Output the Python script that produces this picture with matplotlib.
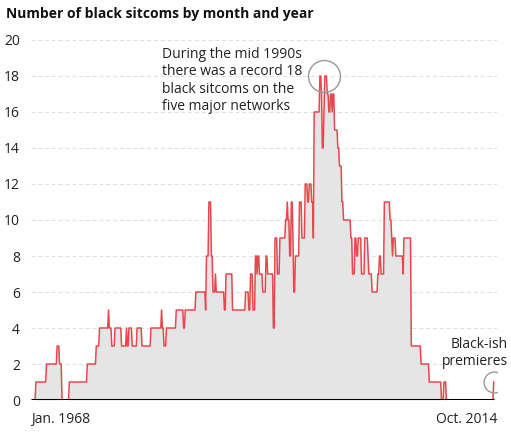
import numpy as np
import pandas as pd
import matplotlib
matplotlib.use("Agg")
import matplotlib.pyplot as plt

plt.rcParams['font.family'] = ['Open Sans', 'DejaVu Sans']

# months where the count changes, and the new count from that month on
change_months = [
    "1967-12",
    "1968-01", "1969-02", "1970-03", "1970-06", "1970-09", "1971-06", "1973-04",
    "1974-03", "1974-07", "1975-06", "1975-07", "1975-10", "1976-02", "1976-10",
    "1977-04", "1977-05", "1977-07", "1977-11", "1978-05", "1978-11", "1979-10",
    "1980-11", "1980-12", "1981-02", "1981-05", "1982-05", "1983-02", "1983-04",
    "1984-05", "1985-05", "1985-06", "1985-09", "1985-12", "1986-02", "1986-05",
    "1986-06", "1987-04", "1987-06", "1988-02", "1989-06", "1989-10", "1989-12",
    "1990-03", "1990-06", "1990-08", "1990-09", "1990-11", "1991-03", "1991-07",
    "1991-09", "1992-04", "1992-06", "1992-09", "1992-12", "1993-07", "1993-09",
    "1993-10", "1993-12", "1994-02", "1994-04", "1994-05", "1994-07", "1994-12",
    "1995-03", "1995-07", "1995-10", "1995-12", "1996-03", "1996-05", "1996-06",
    "1997-01", "1997-03", "1997-04", "1997-06", "1997-07", "1997-10", "1997-12",
    "1998-02", "1998-04", "1998-05", "1998-07", "1998-11", "1999-01", "1999-04",
    "1999-06", "2000-03", "2000-05", "2000-08", "2000-10", "2000-12", "2001-04",
    "2001-08", "2001-12", "2002-01", "2002-05", "2002-12", "2003-02", "2003-04",
    "2003-08", "2004-03", "2004-05", "2004-06", "2004-07", "2004-10", "2005-07",
    "2005-08", "2006-05", "2007-05", "2008-03", "2009-06", "2009-09", "2009-12",
    "2014-10",
]
change_counts = [
    0,
    1, 2, 3, 2, 0, 1, 2,
    3, 4, 5, 4, 3, 4, 3,
    4, 3, 4, 3, 4, 3, 4,
    5, 4, 3, 4, 5, 4, 5,
    6, 5, 8, 11, 8, 6, 7,
    6, 5, 7, 5, 6, 5, 7,
    5, 8, 7, 8, 7, 6, 8,
    7, 4, 9, 7, 9, 10, 11,
    10, 8, 11, 9, 6, 8, 11,
    9, 12, 11, 12, 11, 9, 16,
    18, 17, 14, 16, 18, 17, 16,
    17, 16, 17, 15, 14, 13, 11,
    10, 9, 7, 9, 8, 9, 7,
    9, 8, 7, 6, 7, 8, 7,
    11, 10, 9, 8, 9, 8, 7,
    9, 3, 2, 1, 0, 1, 0,
    1,
]

x_labels = ["Jan. 1968", "Oct. 2014"]

# monthly series, each count holds until the next change
idx = pd.PeriodIndex(change_months, freq="M")
series = pd.Series(change_counts, index=idx)
full = pd.period_range(idx[0], idx[-1], freq="M")
monthly = series.reindex(full).ffill()
x = np.arange(len(monthly)) - 1   # Jan. 1968 -> 0
y = monthly.values

fig = plt.figure(figsize=(5.11, 4.37), dpi=100)
ax = fig.add_axes([31 / 511, 37 / 437, 466 / 511, 360 / 437])

ax.fill_between(x, y, 0, color="#e5e5e5", lw=0, zorder=1)
ax.plot(x, y, color="#e8474f", lw=1.1, zorder=3)
ax.hlines(0, -6, x[-1], color="black", lw=2.2, zorder=4)

ax.set_xlim(-6, 565)
ax.set_ylim(0, 20)
ax.set_yticks(range(0, 21, 2))
ax.yaxis.grid(True, color="#dddddd", lw=0.7, ls=(0, (4, 3)), zorder=0)
ax.set_axisbelow(True)
ax.tick_params(axis="y", length=0, labelsize=10, colors="#222222", pad=8)
ax.set_xticks([])
for s in ax.spines.values():
    s.set_visible(False)

ax.text(-6, -0.65, x_labels[0], ha="left", va="top", fontsize=10, color="#222222")
ax.text(x[-1] + 4, -0.65, x_labels[1], ha="right", va="top", fontsize=10,
        color="#222222")

fig.text(6 / 511, 1 - 14 / 437, "Number of black sitcoms by month and year",
         fontsize=10, fontweight="bold", ha="left", va="center", color="#111111")

# annotations
peak_i = 353
ax.plot(peak_i, 18, "o", ms=23, mfc="none", mec="#999999", mew=1.0, zorder=5)
ax.text(154, 19.6, "During the mid 1990s\nthere was a record 18\nblack sitcoms on the\nfive major networks",
        ha="left", va="top", fontsize=10, color="#222222", linespacing=1.2)

ax.plot(x[-1], 1, "o", ms=15, mfc="none", mec="#999999", mew=1.0, zorder=5)
ax.text(x[-1] + 17, 1.7, "Black-ish\npremieres", ha="right", va="bottom",
        fontsize=10, color="#222222", linespacing=1.2)

fig.savefig("out.png", dpi=100)
